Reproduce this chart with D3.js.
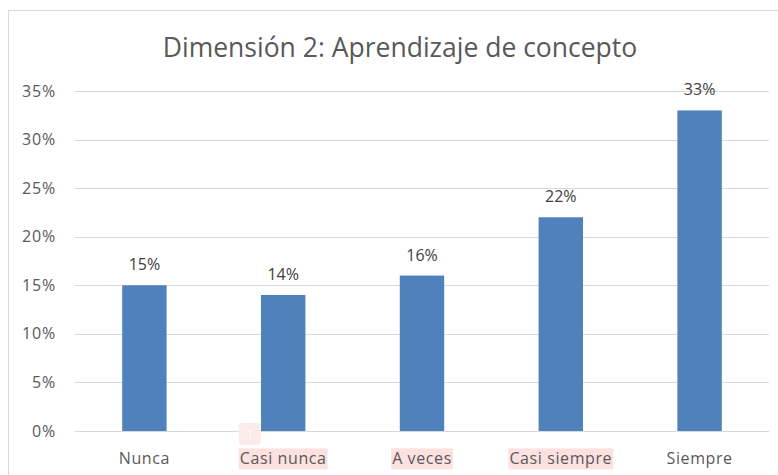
<!DOCTYPE html>
<html>
<head>
<meta charset="utf-8">
<script src="https://cdn.jsdelivr.net/npm/d3@7"></script>
<style>
  body { margin: 0; background: #fff; }
  text { font-family: "Open Sans", "DejaVu Sans", sans-serif; }
</style>
</head>
<body>
<div id="chart"></div>
<script>
var categories = ["Nunca", "Casi nunca", "A veces", "Casi siempre", "Siempre"];
var values = [0.15, 0.14, 0.16, 0.22, 0.33];
var yTicks = [0, 0.05, 0.10, 0.15, 0.20, 0.25, 0.30, 0.35];
var highlighted = ["Casi nunca", "A veces", "Casi siempre"];

var W = 778, H = 475;
var margin = {top: 91, right: 9, bottom: 44, left: 75};
var width = W - margin.left - margin.right,
    height = H - margin.top - margin.bottom;

var svg = d3.select("#chart").append("svg")
    .attr("width", W)
    .attr("height", H);

// chart frame
svg.append("rect")
    .attr("x", 8.5).attr("y", 10.5)
    .attr("width", W + 20).attr("height", H + 20)
    .attr("fill", "none")
    .attr("stroke", "#d9d9d9");

svg.append("text")
    .attr("x", 400)
    .attr("y", 57)
    .attr("text-anchor", "middle")
    .style("font-size", "26.5px")
    .style("fill", "#595959")
    .text("Dimensión 2: Aprendizaje de concepto");

var g = svg.append("g")
    .attr("transform", "translate(" + margin.left + "," + margin.top + ")");

var x = d3.scaleBand()
    .domain(categories)
    .range([0, width])
    .paddingInner(0.68)
    .paddingOuter(0.34);

var xBand = d3.scaleBand().domain(categories).range([0, width]);

var y = d3.scaleLinear()
    .domain([0, 0.35])
    .range([height, 0]);

// gridlines
g.selectAll(".grid")
    .data(yTicks)
    .enter().append("line")
    .attr("class", "grid")
    .attr("x1", 0).attr("x2", width)
    .attr("y1", function (d) { return Math.round(y(d)) + 0.5; })
    .attr("y2", function (d) { return Math.round(y(d)) + 0.5; })
    .attr("stroke", "#d9d9d9")
    .attr("stroke-width", 1);

var yAxis = g.append("g")
    .call(d3.axisLeft(y).tickValues(yTicks).tickSize(0).tickPadding(19)
        .tickFormat(d3.format(".0%")));
yAxis.select(".domain").remove();
yAxis.selectAll("text")
    .style("font-size", "16px")
    .style("letter-spacing", "0.8px")
    .style("fill", "#595959")
    .style("font-family", "'Open Sans', sans-serif");

// bars
g.selectAll(".bar")
    .data(values)
    .enter().append("rect")
    .attr("class", "bar")
    .attr("x", function (d, i) { return x(categories[i]); })
    .attr("width", x.bandwidth())
    .attr("y", function (d) { return y(d); })
    .attr("height", function (d) { return height - y(d); })
    .attr("fill", "#4f81bd");

// data labels
g.selectAll(".label")
    .data(values)
    .enter().append("text")
    .attr("class", "label")
    .attr("x", function (d, i) { return x(categories[i]) + x.bandwidth() / 2; })
    .attr("y", function (d) { return y(d) - 15; })
    .attr("text-anchor", "middle")
    .style("font-size", "16px")
    .style("fill", "#404040")
    .text(function (d) { return d3.format(".0%")(d); });

// category axis
var xAxis = g.append("g")
    .attr("transform", "translate(0," + height + ")")
    .call(d3.axisBottom(xBand).tickSize(0).tickPadding(22));
xAxis.select(".domain").remove();
xAxis.selectAll("text")
    .style("font-size", "16px")
    .style("letter-spacing", "0.6px")
    .style("fill", "#595959")
    .style("font-family", "'Open Sans', sans-serif");

// pink highlight behind some labels
xAxis.selectAll(".tick").each(function (d) {
    if (highlighted.indexOf(d) < 0) return;
    var t = d3.select(this).select("text");
    var bb = t.node().getBBox();
    d3.select(this).insert("rect", "text")
        .attr("x", bb.x - 1)
        .attr("y", bb.y + 1)
        .attr("width", bb.width + 2)
        .attr("height", bb.height - 1)
        .attr("fill", "#fde0e0");
});

// small comment marker near "Casi nunca"
var mx = xBand("Casi nunca");
var marker = g.append("g")
    .attr("transform", "translate(" + (mx + 25) + "," + (height - 8) + ")");
marker.append("rect")
    .attr("width", 22).attr("height", 22)
    .attr("rx", 4)
    .attr("fill", "#fdeaea");
marker.append("text")
    .attr("x", 11).attr("y", 15)
    .attr("text-anchor", "middle")
    .style("font-size", "11px")
    .style("fill", "#ffffff")
    .text("1");
</script>
</body>
</html>
